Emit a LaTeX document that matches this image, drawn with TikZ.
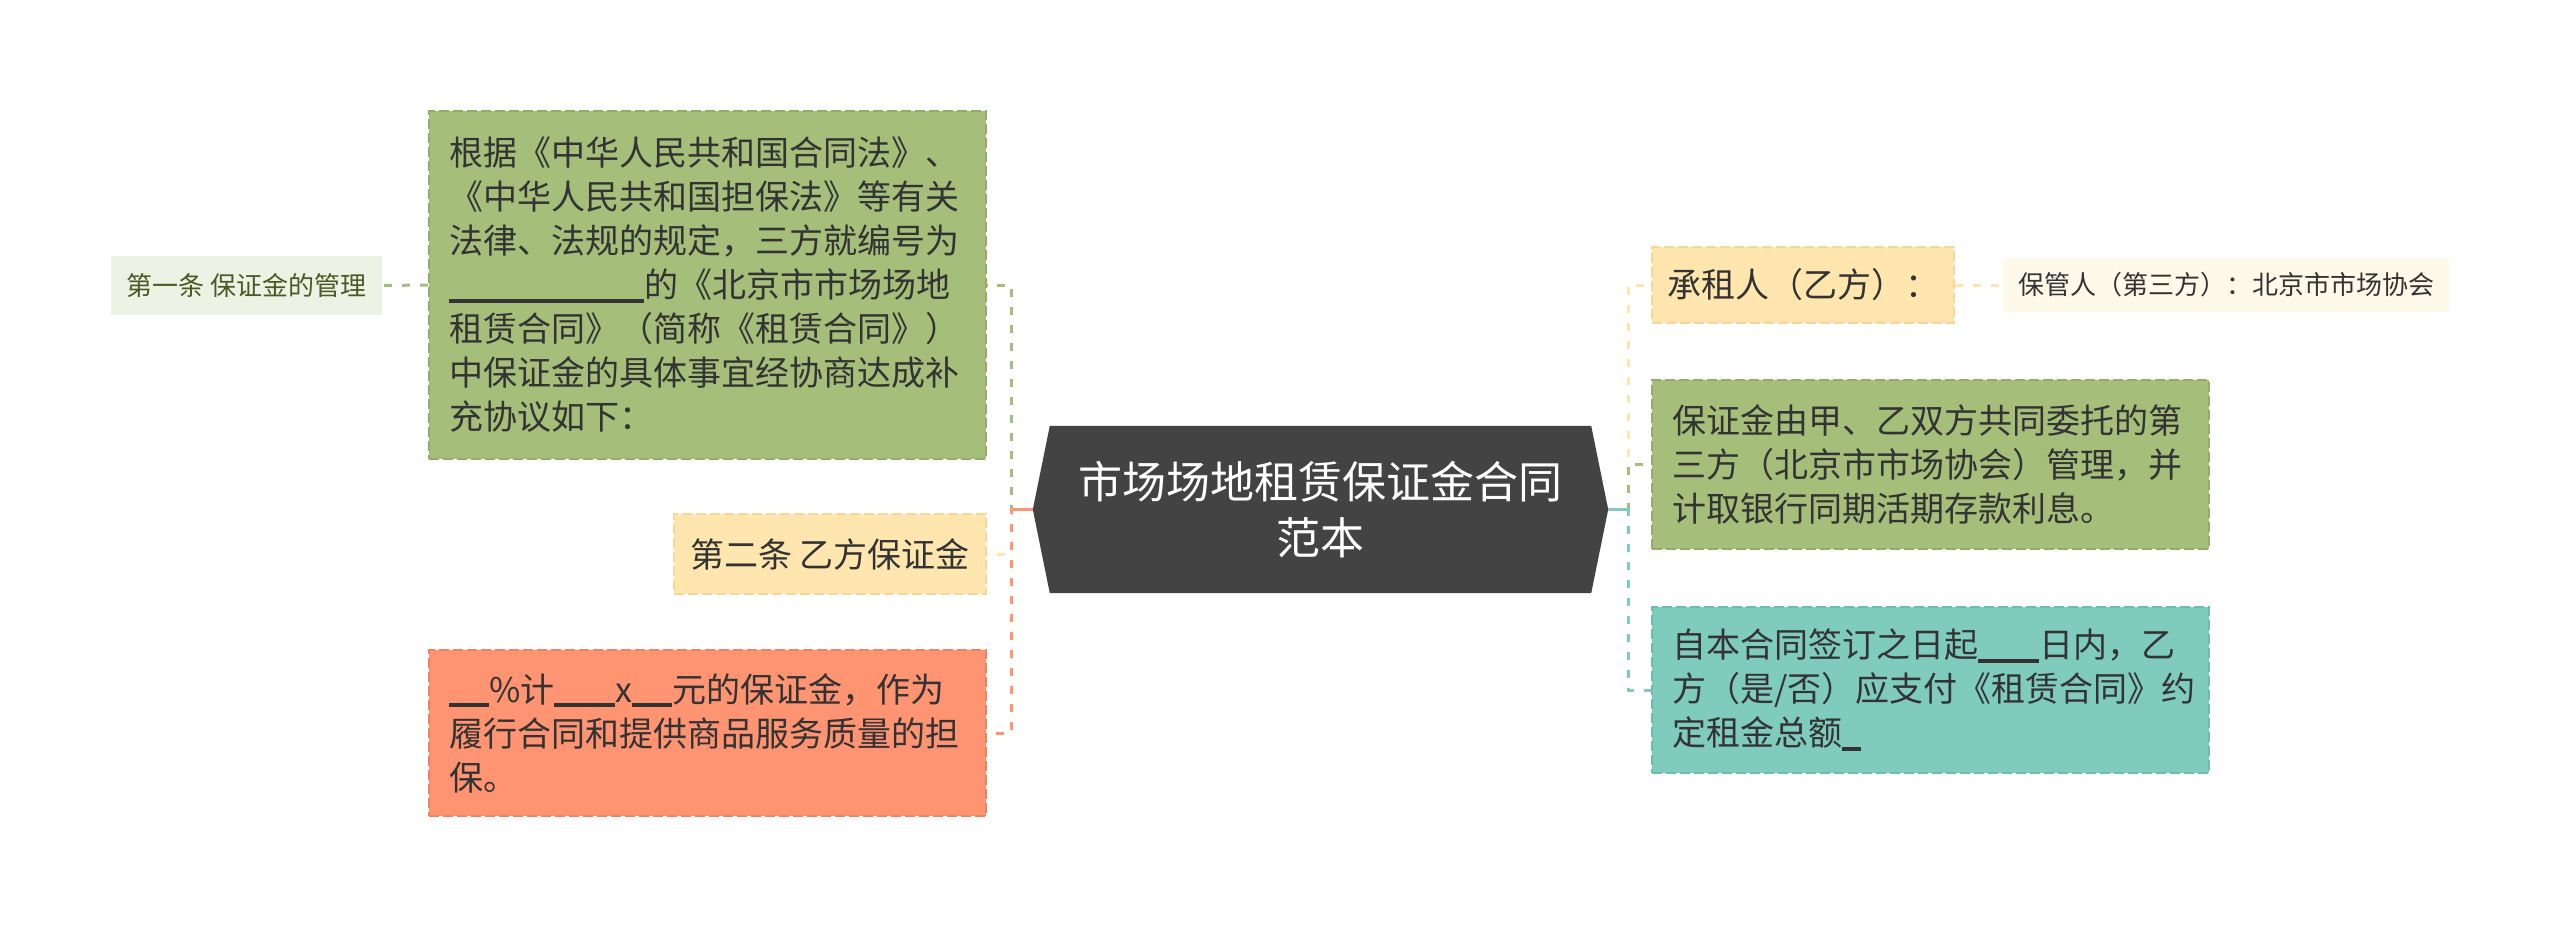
\documentclass[tikz,border=0pt]{standalone}
\usepackage{fontspec}
\newfontfamily\cjk{Noto Sans CJK SC}
\usetikzlibrary{calc}
\definecolor{cgreen}{HTML}{A5BE7A}
\definecolor{cgreenb}{HTML}{93AD67}
\definecolor{cyellow}{HTML}{FFE6AE}
\definecolor{cyellowb}{HTML}{F6D796}
\definecolor{corange}{HTML}{FF9473}
\definecolor{coranged}{HTML}{F0825F}
\definecolor{cteal}{HTML}{7FCBBD}
\definecolor{ctealb}{HTML}{6DBCAD}
\definecolor{clgreen}{HTML}{EEF2E4}
\definecolor{ccream}{HTML}{FFF9EA}
\definecolor{cdark}{HTML}{434343}
\definecolor{ctext}{HTML}{333333}
\definecolor{colive}{HTML}{4A5A24}
\newcommand\blankrule[1]{\rule[-0.14em]{#1}{0.1em}}
\begin{document}
\begin{tikzpicture}[x=1pt,y=-1pt,
  box/.style={draw, line width=2pt, dash pattern=on 10pt off 4pt, inner sep=0pt,
    font=\cjk\fontsize{34}{44}\selectfont, text=ctext, align=left},
  small/.style={draw=none, inner sep=0pt, font=\cjk\fontsize{26}{32}\selectfont, align=center},
  conn/.style={line width=3pt, dash pattern=on 8pt off 10pt},
]
\useasboundingbox[fill=white] (0,0) rectangle (2560,931);

% central
\node[minimum width=575pt, minimum height=167pt, inner sep=0pt] (c) at (1320.5,509.5) {};
\fill[cdark] (c.west) -- ([xshift=17pt]c.north west) -- ([xshift=-17pt]c.north east) -- (c.east)
  -- ([xshift=-17pt]c.south east) -- ([xshift=17pt]c.south west) -- cycle;
\node[font=\cjk\fontsize{44}{56}\selectfont, text=white, align=center] (ct) at (c.center) {市场场地租赁保证金合同\\范本};

% left children
\node[box, fill=cgreen, draw=cgreenb, minimum width=557pt, minimum height=348pt, text width=517pt] (bigG) at (707.5,285)
{根据《中华人民共和国合同法》、\\《中华人民共和国担保法》等有关\\法律、法规的规定，三方就编号为\\\blankrule{195pt}的《北京市市场场地\\租赁合同》（简称《租赁合同》）\\中保证金的具体事宜经协商达成补\\充协议如下：};

\node[small, fill=clgreen, text=colive, minimum width=271pt, minimum height=59pt] (first) at (246.5,285.5) {第一条 保证金的管理};

\node[box, fill=cyellow, draw=cyellowb, minimum width=312pt, minimum height=80pt, align=center] (second) at (830,554) {第二条 乙方保证金};

\node[box, fill=corange, draw=coranged, minimum width=557pt, minimum height=166pt, text width=517pt] (orange) at (707.5,733)
{\blankrule{40pt}\%计\blankrule{61pt}x\blankrule{40pt}元的保证金，作为\\履行合同和提供商品服务质量的担\\保。};

% right children
\node[box, fill=cyellow, draw=cyellowb, minimum width=302pt, minimum height=76pt, align=center] (tenant) at (1803,285) {承租人（乙方）：};

\node[small, fill=ccream, text=ctext, minimum width=446pt, minimum height=54pt] (keeper) at (2226,285) {保管人（第三方）：北京市市场协会};

\node[box, fill=cgreen, draw=cgreenb, minimum width=557pt, minimum height=169pt, text width=517pt] (rG) at (1930.5,464.5)
{保证金由甲、乙双方共同委托的第\\三方（北京市市场协会）管理，并\\计取银行同期活期存款利息。};

\node[box, fill=cteal, draw=ctealb, minimum width=557pt, minimum height=166pt, text width=517pt] (teal) at (1930.5,690)
{自本合同签订之日起\blankrule{61pt}日内，乙\\方（是/否）应支付《租赁合同》约\\定租金总额\blankrule{19pt}};

% junctions
\coordinate (jl) at (1011,509.5);
\coordinate (jr) at (1628,509.5);

% connectors left
\draw[conn, cgreen] (c.west) -- (jl) |- (bigG.east);
\draw[conn, cyellow] (c.west) -- (jl) |- (second.east);
\draw[conn, corange] (c.west) -- (jl) |- (orange.east);
\draw[line width=3pt, corange] (c.west) -- (jl);
\draw[conn, cgreen] (bigG.west) -- (first.east);

% connectors right
\draw[conn, cyellow] (c.east) -- (jr) |- (tenant.west);
\draw[conn, cgreen] (c.east) -- (jr) |- (rG.west);
\draw[conn, cteal] (c.east) -- (jr) |- (teal.west);
\draw[line width=3pt, cteal] (c.east) -- (jr);
\draw[conn, cyellow] (tenant.east) -- (keeper.west);
\end{tikzpicture}
\end{document}
